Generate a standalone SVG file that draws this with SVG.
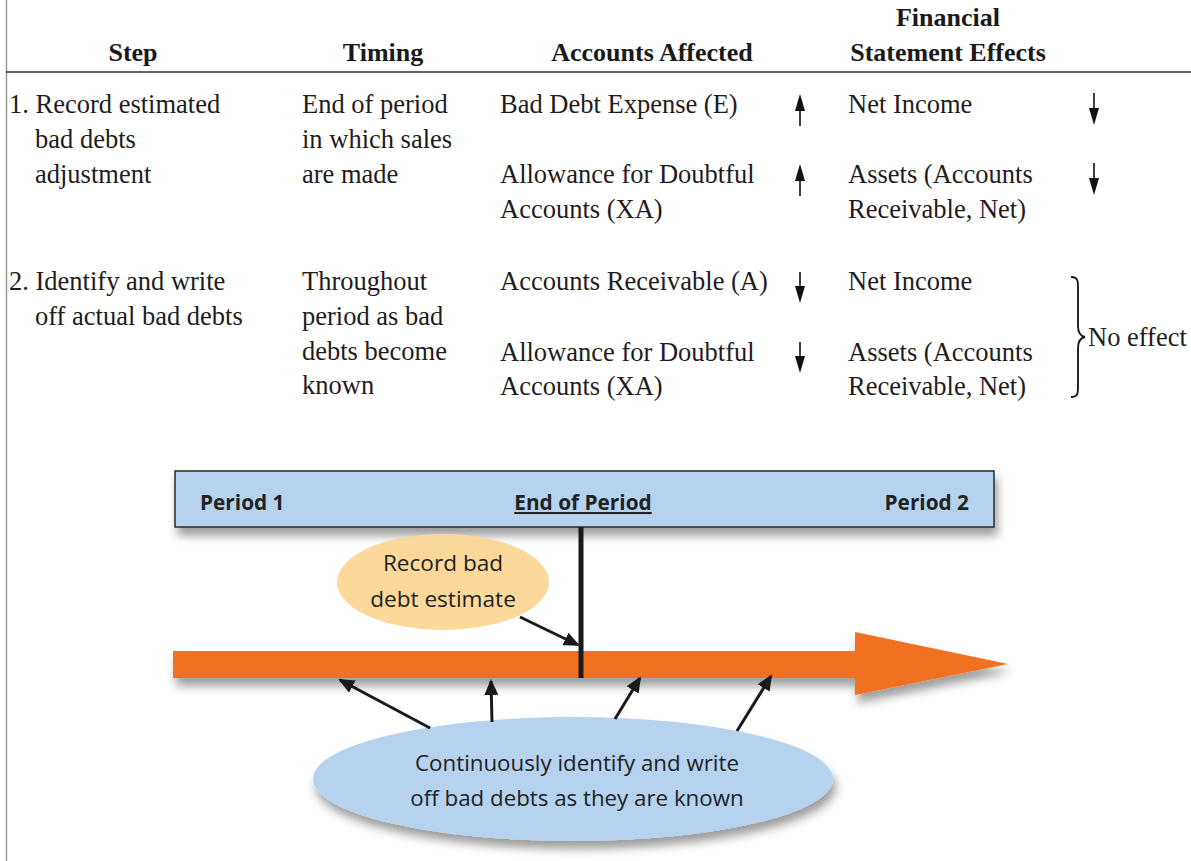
<svg xmlns="http://www.w3.org/2000/svg" width="1191" height="861" viewBox="0 0 1191 861">
<style>
.h{font-family:"Liberation Serif","Times New Roman",serif;font-weight:bold;font-size:26px;fill:#1a1a1a}
.t{font-family:"Liberation Serif","Times New Roman",serif;font-size:26.5px;fill:#1f1c1d}
.s{font-family:"Open Sans",Lato,sans-serif;font-size:22.3px;fill:#222}
.so{font-family:"Open Sans",Lato,sans-serif;font-size:22.6px;fill:#222}
.sb{font-family:"Open Sans",Lato,sans-serif;font-size:20.8px;font-weight:bold;fill:#222}
.conn{stroke:#1a1a1a;stroke-width:3;fill:none}
.stem{stroke:#111;stroke-width:1.6}
</style>
<defs>
<marker id="ahL" markerWidth="16" markerHeight="14" refX="14" refY="7" orient="auto" markerUnits="userSpaceOnUse" viewBox="0 0 16 14">
<path d="M0,0 L16,7 L0,14 z" fill="#1a1a1a"/>
</marker>
<filter id="sh" x="-10%" y="-20%" width="120%" height="170%">
<feDropShadow dx="3" dy="8" stdDeviation="5" flood-color="#000" flood-opacity="0.38"/>
</filter>
</defs>
<rect width="1191" height="861" fill="#fff"/>
<line x1="6.5" y1="0" x2="6.5" y2="861" stroke="#999" stroke-width="1.5"/>
<line x1="6" y1="72" x2="1191" y2="72" stroke="#333" stroke-width="1.5"/>

<g id="header">
<text class="h" x="133" y="61" text-anchor="middle">Step</text>
<text class="h" x="383" y="61" text-anchor="middle">Timing</text>
<text class="h" x="652" y="61" text-anchor="middle">Accounts Affected</text>
<text class="h" x="948" y="26" text-anchor="middle">Financial</text>
<text class="h" x="948" y="61" text-anchor="middle">Statement Effects</text>
</g>

<g id="row1">
<text class="t" x="9" y="113">1. Record estimated</text>
<text class="t" x="35" y="148">bad debts</text>
<text class="t" x="35" y="183">adjustment</text>
<text class="t" x="302" y="113">End of period</text>
<text class="t" x="302" y="148">in which sales</text>
<text class="t" x="302" y="183">are made</text>
<text class="t" x="500" y="113">Bad Debt Expense (E)</text>
<text class="t" x="500" y="183">Allowance for Doubtful</text>
<text class="t" x="500" y="218">Accounts (XA)</text>
<text class="t" x="848" y="113">Net Income</text>
<text class="t" x="848" y="183">Assets (Accounts</text>
<text class="t" x="848" y="218">Receivable, Net)</text>
<g fill="#111">
<line class="stem" x1="800" y1="126" x2="800" y2="106"/>
<path d="M795,111 L800,94 L805,111 z"/>
<line class="stem" x1="800" y1="196" x2="800" y2="176"/>
<path d="M795,181 L800,164 L805,181 z"/>
<line class="stem" x1="1094" y1="93" x2="1094" y2="112"/>
<path d="M1089,108 L1094,125 L1099,108 z"/>
<line class="stem" x1="1094" y1="163" x2="1094" y2="182"/>
<path d="M1089,178 L1094,195 L1099,178 z"/>
</g>
</g>

<g id="row2">
<text class="t" x="9" y="290">2. Identify and write</text>
<text class="t" x="35" y="325">off actual bad debts</text>
<text class="t" x="302" y="290">Throughout</text>
<text class="t" x="302" y="325">period as bad</text>
<text class="t" x="302" y="360">debts become</text>
<text class="t" x="302" y="394">known</text>
<text class="t" x="500" y="290">Accounts Receivable (A)</text>
<text class="t" x="500" y="361">Allowance for Doubtful</text>
<text class="t" x="500" y="395">Accounts (XA)</text>
<text class="t" x="848" y="290">Net Income</text>
<text class="t" x="848" y="361">Assets (Accounts</text>
<text class="t" x="848" y="395">Receivable, Net)</text>
<g fill="#111">
<line class="stem" x1="800" y1="272" x2="800" y2="290"/>
<path d="M795,286 L800,303 L805,286 z"/>
<line class="stem" x1="800" y1="342" x2="800" y2="360"/>
<path d="M795,356 L800,373 L805,356 z"/>
</g>
<path d="M1071,277 C1078,277 1078,281 1078,288 L1078,326 C1078,333 1080,336 1085,337 C1080,338 1078,341 1078,348 L1078,386 C1078,393 1078,397 1071,397" stroke="#111" stroke-width="1.8" fill="none"/>
<text class="t" x="1088" y="346">No effect</text>
</g>

<g id="timeline">
<path id="orange-arrow" d="M173,651 L855,651 L855,632 L1008,664 L855,695 L855,678 L173,678 z" fill="#f26f24" filter="url(#sh)"/>
</g>

<g id="period-box">
<rect x="175" y="471" width="819" height="56" fill="#b5d3ef" stroke="#2a2a2a" stroke-width="1.5" filter="url(#sh)"/>
<text class="sb" x="200" y="510">Period 1</text>
<text class="sb" x="583" y="510" text-anchor="middle" text-decoration="underline">End of Period</text>
<text class="sb" x="969" y="510" text-anchor="end">Period 2</text>
</g>

<line x1="581" y1="527" x2="581" y2="678" stroke="#1a1a1a" stroke-width="5"/>

<g id="record-estimate">
<ellipse cx="443" cy="582" rx="106" ry="48" fill="#fcd99b"/>
<text class="so" x="443" y="571" text-anchor="middle">Record bad</text>
<text class="so" x="443" y="607" text-anchor="middle">debt estimate</text>
</g>

<g id="write-off">
<ellipse cx="573" cy="779" rx="260" ry="62" fill="#b5d3ef" filter="url(#sh)"/>
<text class="s" x="577" y="771" text-anchor="middle">Continuously identify and write</text>
<text class="s" x="577" y="806" text-anchor="middle">off bad debts as they are known</text>
</g>

<g id="connectors">
<line class="conn" x1="520" y1="617" x2="578" y2="645" marker-end="url(#ahL)"/>
<line class="conn" x1="430" y1="728" x2="340" y2="680" marker-end="url(#ahL)"/>
<line class="conn" x1="492" y1="722" x2="491" y2="681" marker-end="url(#ahL)"/>
<line class="conn" x1="615" y1="719" x2="640" y2="678" marker-end="url(#ahL)"/>
<line class="conn" x1="737" y1="731" x2="771" y2="676" marker-end="url(#ahL)"/>
</g>
</svg>
